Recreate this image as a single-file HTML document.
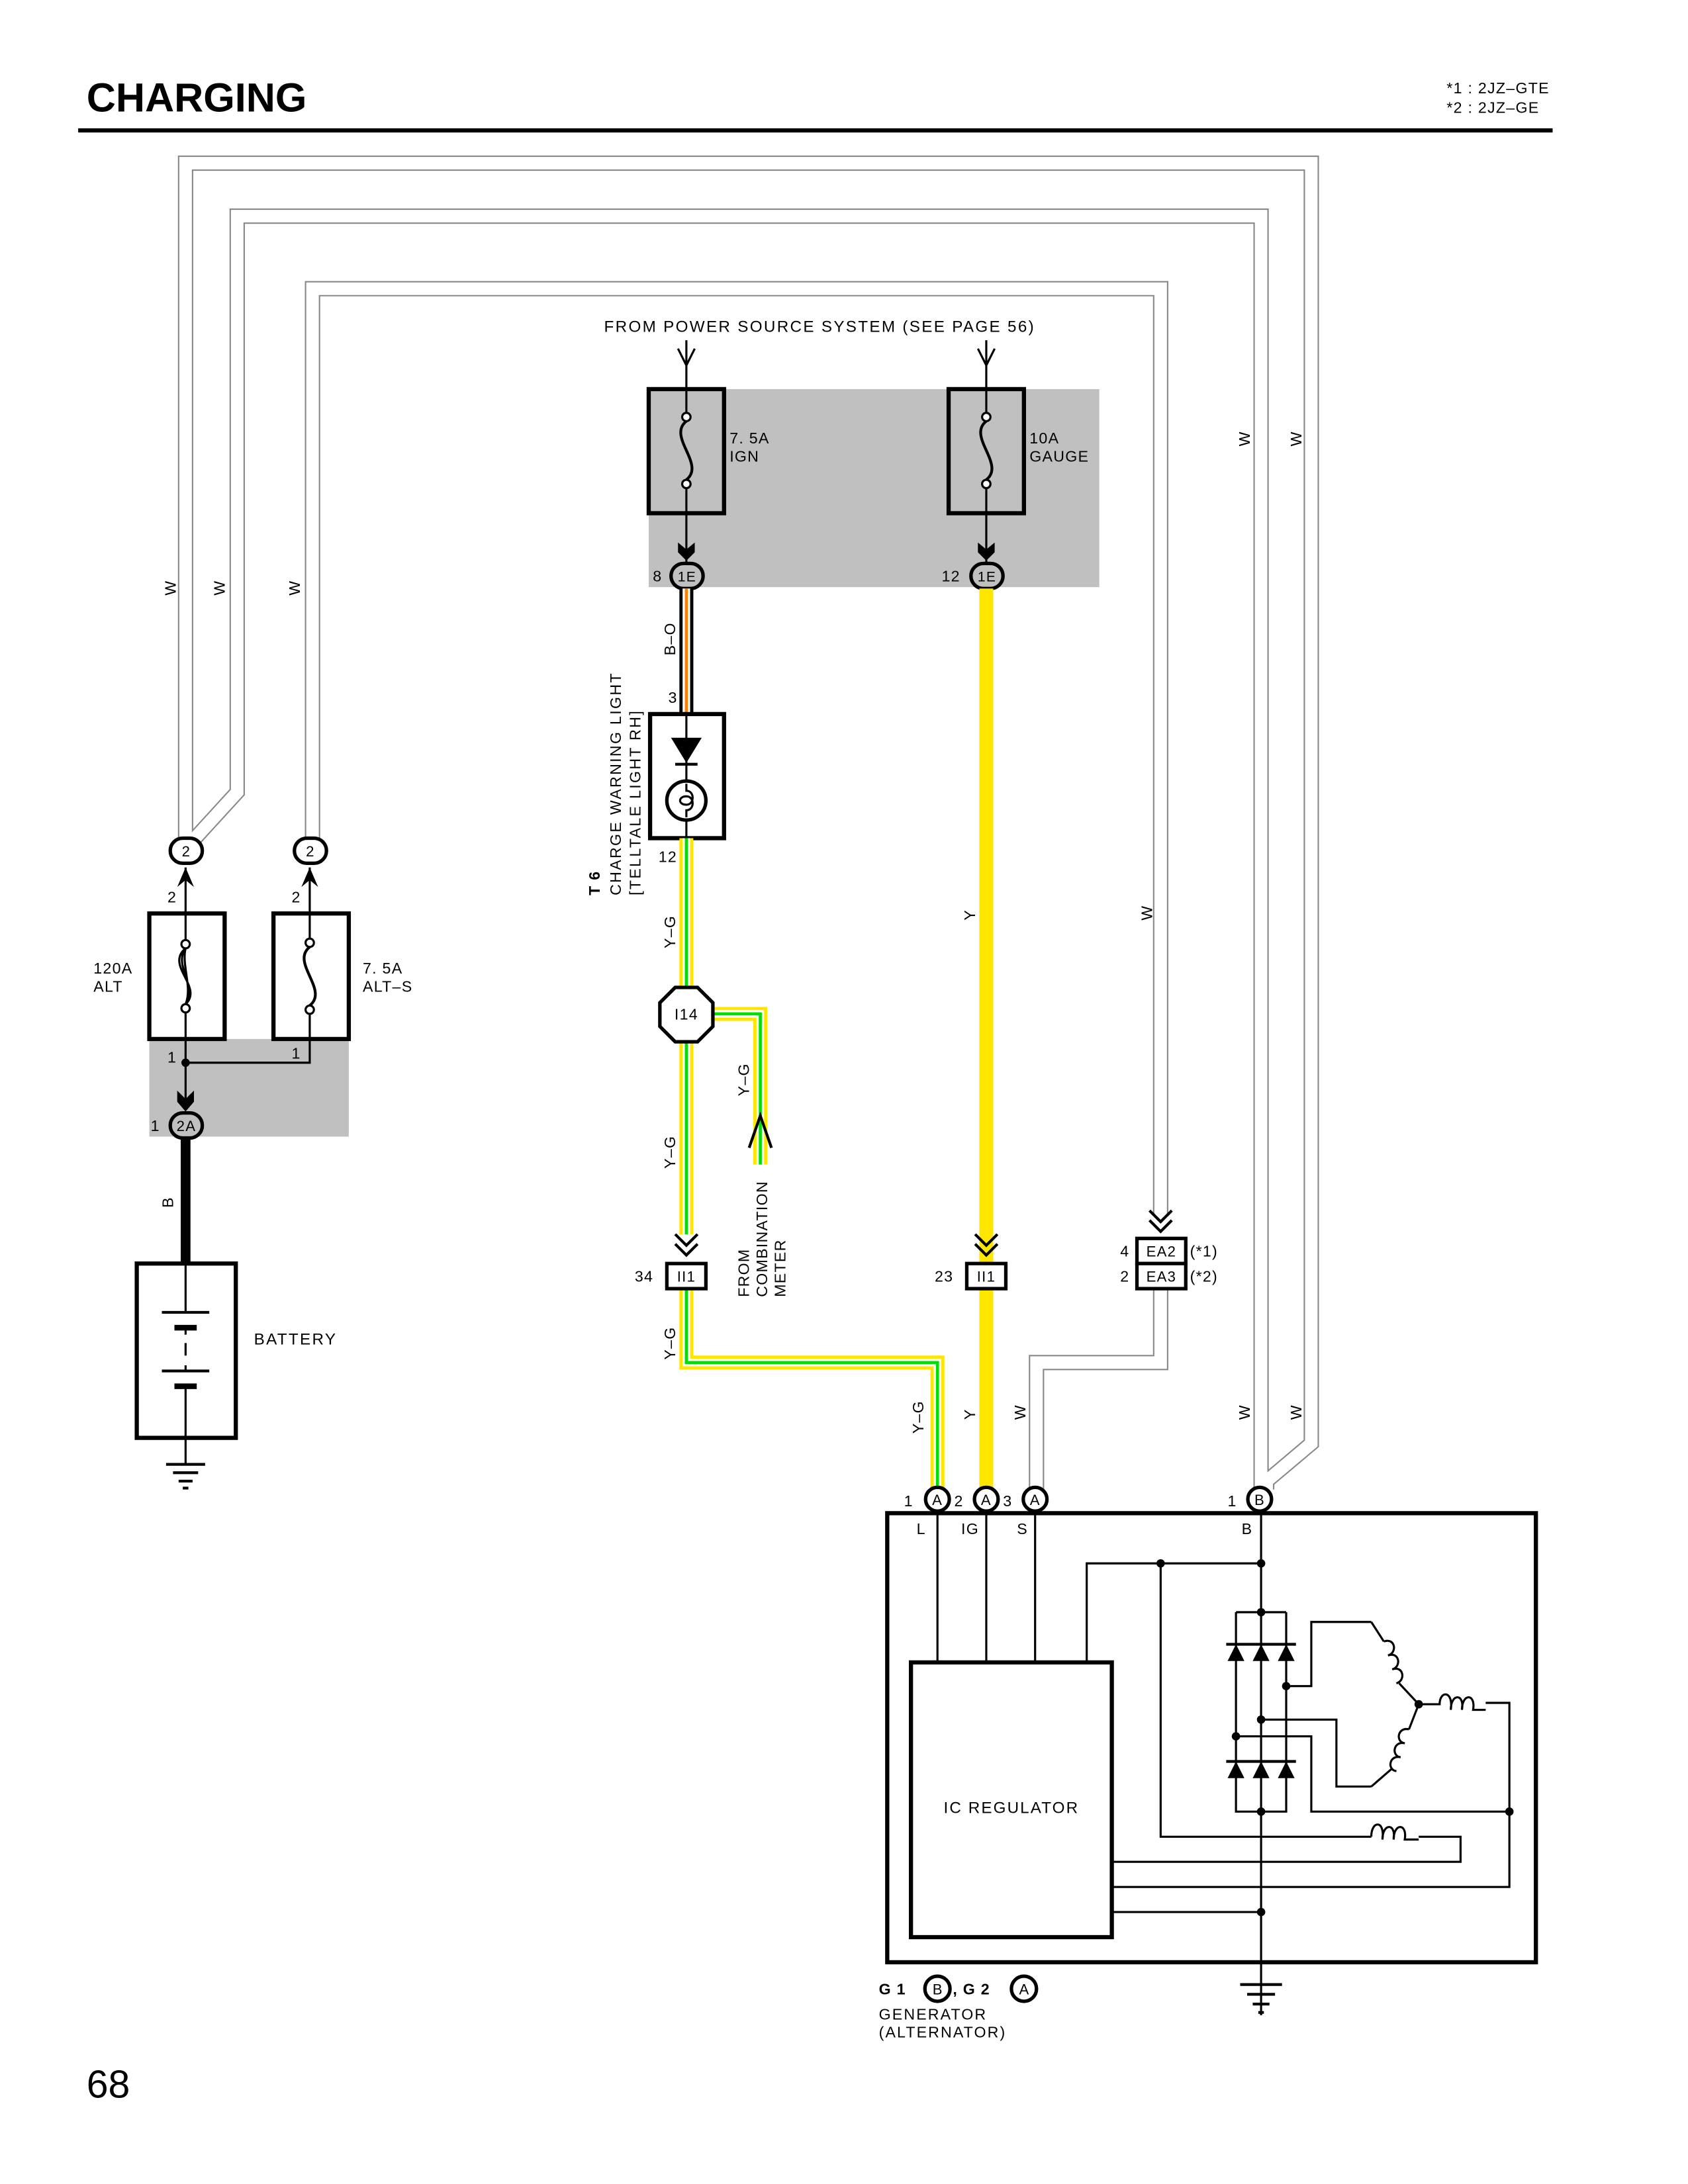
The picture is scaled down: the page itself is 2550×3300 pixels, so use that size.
<!DOCTYPE html>
<html><head><meta charset="utf-8"><style>
html,body{margin:0;padding:0;background:#fff}
svg{display:block}
text{font-family:"Liberation Sans",sans-serif;fill:#000;letter-spacing:0.6px}
</style></head><body>
<svg width="2550" height="3300" viewBox="0 0 1210 1566" xmlns="http://www.w3.org/2000/svg">
<defs>
<g id="fz"><path d="M0,-21 C-14,-10 14,10 0,21" fill="none" stroke="#000" stroke-width="2"/><circle cx="0" cy="-24" r="3" fill="#fff" stroke="#000" stroke-width="1.5"/><circle cx="0" cy="24" r="3" fill="#fff" stroke="#000" stroke-width="1.5"/></g>
</defs>
<rect width="1210" height="1566" fill="#fff"/>
<!-- header -->
<text x="62" y="80" font-size="29" font-weight="bold" style="letter-spacing:0">CHARGING</text>
<text x="1037" y="67" font-size="11">*1  : 2JZ–GTE</text>
<text x="1037" y="81" font-size="11">*2  : 2JZ–GE</text>
<rect x="56" y="92" width="1057" height="3" fill="#000"/>

<!-- shaded areas -->
<rect x="465" y="279" width="323" height="142" fill="#c0c0c0"/>
<rect x="107" y="745" width="143" height="70" fill="#c0c0c0"/>

<!-- W wires -->
<g fill="none" stroke-linejoin="miter">
<g stroke="#888" stroke-width="11">
<path d="M133,603 V117 H940 V1035 L908,1062 V1068"/>
<path d="M138,603 L170,568 V155 H904 V1068"/>
<path d="M224,603 V207 H832 V870"/>
<path d="M832,924 V977 H743 V1068"/>
</g>
<g stroke="#fff" stroke-width="9">
<path d="M133,603 V117 H940 V1035 L908,1062 V1068"/>
<path d="M138,603 L170,568 V155 H904 V1068"/>
<path d="M224,603 V207 H832 V870"/>
<path d="M832,924 V977 H743 V1068"/>
</g>
</g>
<g font-size="11">
<text transform="translate(126,427) rotate(-90)">W</text>
<text transform="translate(161,427) rotate(-90)">W</text>
<text transform="translate(215,427) rotate(-90)">W</text>
<text transform="translate(896,320) rotate(-90)">W</text>
<text transform="translate(933,320) rotate(-90)">W</text>
<text transform="translate(826,660) rotate(-90)">W</text>
<text transform="translate(735,1018) rotate(-90)">W</text>
<text transform="translate(896,1018) rotate(-90)">W</text>
<text transform="translate(933,1018) rotate(-90)">W</text>
</g>

<!-- power source -->
<text x="433" y="238" font-size="11.5" style="letter-spacing:1.1px">FROM POWER SOURCE SYSTEM (SEE PAGE 56)</text>
<g stroke="#000" stroke-width="1.5" fill="none">
<path d="M492,244 V279 M486,250 L492,262 L498,250"/>
<path d="M707,244 V279 M701,250 L707,262 L713,250"/>
</g>
<!-- fuses top -->
<rect x="465" y="279" width="54" height="89" fill="none" stroke="#000" stroke-width="3"/>
<rect x="680" y="279" width="54" height="89" fill="none" stroke="#000" stroke-width="3"/>
<g stroke="#000" stroke-width="1.5"><path d="M492,279 V296 M492,350 V368 M707,279 V296 M707,350 V368"/></g>
<use href="#fz" x="492" y="323"/>
<use href="#fz" x="707" y="323"/>
<text x="523" y="318" font-size="11">7. 5A</text><text x="523" y="331" font-size="11">IGN</text>
<text x="738" y="318" font-size="11">10A</text><text x="738" y="331" font-size="11">GAUGE</text>
<g stroke="#000" stroke-width="1.5"><path d="M492,368 V404 M707,368 V404"/></g>
<path d="M486,389 L492,394 L498,389 L498,396 L492,402 L486,396Z" fill="#000"/>
<path d="M701,389 L707,394 L713,389 L713,396 L707,402 L701,396Z" fill="#000"/>
<rect x="481" y="404" width="23" height="18" rx="9" fill="#c0c0c0" stroke="#000" stroke-width="2.5"/>
<rect x="696" y="404" width="23" height="18" rx="9" fill="#c0c0c0" stroke="#000" stroke-width="2.5"/>
<text x="492.5" y="417" font-size="10" text-anchor="middle">1E</text>
<text x="707.5" y="417" font-size="10" text-anchor="middle">1E</text>
<text x="468" y="417" font-size="11">8</text>
<text x="675" y="417" font-size="11">12</text>

<!-- B-O wire -->
<path d="M492,422 V512" stroke="#000" stroke-width="10"/>
<path d="M492,422 V512" stroke="#fff" stroke-width="5.4"/>
<path d="M492,422 V512" stroke="#ff8000" stroke-width="2.2"/>
<text transform="translate(484,470) rotate(-90)" font-size="11">B–O</text>
<text x="479" y="504" font-size="11">3</text>

<!-- T6 -->
<rect x="466" y="512" width="53" height="89" fill="#fff" stroke="#000" stroke-width="3"/>
<path d="M492,512 V601" stroke="#000" stroke-width="1.5"/>
<path d="M481,529 L503,529 L492,547Z" fill="#000"/>
<path d="M484,548 H500" stroke="#000" stroke-width="2"/>
<circle cx="492" cy="574" r="14" fill="#fff" stroke="#000" stroke-width="2.5"/>
<path d="M492,562 V567 C498,567 498,577 492,577 C486,577 486,571 492,571 C498,571 498,581 492,581 V586" fill="none" stroke="#000" stroke-width="1.5"/>
<text transform="translate(430,642) rotate(-90)" font-size="11" font-weight="bold">T 6</text>
<text transform="translate(445,642) rotate(-90)" font-size="11" style="letter-spacing:1.1px">CHARGE WARNING LIGHT</text>
<text transform="translate(459,642) rotate(-90)" font-size="11" style="letter-spacing:1.1px">[TELLTALE LIGHT RH]</text>
<text x="472" y="618" font-size="11">12</text>

<!-- Y-G wires -->
<g fill="none">
<path d="M492,601 V885 M492,924 V977 H672 V1068 M512,727 H545 V835" stroke="#ffe600" stroke-width="10"/>
<path d="M492,601 V885 M492,924 V977 H672 V1068 M512,727 H545 V835" stroke="#fff" stroke-width="5.4"/>
<path d="M492,601 V885 M492,924 V977 H672 V1068 M512,727 H545 V835" stroke="#00e000" stroke-width="2.2"/>
</g>
<g font-size="11">
<text transform="translate(484,680) rotate(-90)">Y–G</text>
<text transform="translate(484,838) rotate(-90)">Y–G</text>
<text transform="translate(484,975) rotate(-90)">Y–G</text>
<text transform="translate(537,786) rotate(-90)">Y–G</text>
<text transform="translate(662,1028) rotate(-90)">Y–G</text>
</g>
<!-- I14 -->
<path d="M484,708 L500,708 L511,719 L511,736 L500,747 L484,747 L473,736 L473,719Z" fill="#fff" stroke="#000" stroke-width="2.5"/>
<text x="492" y="731" font-size="11" text-anchor="middle">I14</text>
<path d="M537,823 L545,800 L553,823" fill="none" stroke="#000" stroke-width="2"/>
<g font-size="11" style="letter-spacing:1.1px">
<text transform="translate(537,930) rotate(-90)">FROM</text>
<text transform="translate(550,930) rotate(-90)">COMBINATION</text>
<text transform="translate(563,930) rotate(-90)">METER</text>
</g>

<!-- Y wire -->
<path d="M707,422 V1068" stroke="#ffe600" stroke-width="10"/>
<text transform="translate(699,660) rotate(-90)" font-size="11">Y</text>
<text transform="translate(699,1018) rotate(-90)" font-size="11">Y</text>

<!-- double arrows -->
<g fill="none" stroke="#000" stroke-width="2">
<path d="M484,885 L492,893 L500,885 M484,892 L492,900 L500,892"/>
<path d="M699,885 L707,893 L715,885 M699,892 L707,900 L715,892"/>
<path d="M824,868 L832,876 L840,868 M824,875 L832,883 L840,875"/>
</g>
<rect x="478" y="906" width="28" height="18" fill="#fff" stroke="#000" stroke-width="2.5"/>
<rect x="693" y="906" width="28" height="18" fill="#fff" stroke="#000" stroke-width="2.5"/>
<text x="492" y="919" font-size="10.5" text-anchor="middle">II1</text>
<text x="707" y="919" font-size="10.5" text-anchor="middle">II1</text>
<text x="455" y="919" font-size="11">34</text>
<text x="670" y="919" font-size="11">23</text>
<rect x="815" y="888" width="35" height="18" fill="#fff" stroke="#000" stroke-width="2.5"/>
<rect x="815" y="906" width="35" height="18" fill="#fff" stroke="#000" stroke-width="2.5"/>
<text x="832.5" y="901" font-size="10.5" text-anchor="middle">EA2</text>
<text x="832.5" y="919" font-size="10.5" text-anchor="middle">EA3</text>
<text x="803" y="901" font-size="11">4</text>
<text x="803" y="919" font-size="11">2</text>
<text x="853" y="901" font-size="11">(*1)</text>
<text x="853" y="919" font-size="11">(*2)</text>

<!-- left fuses -->
<rect x="122" y="601" width="23" height="18" rx="9" fill="#fff" stroke="#000" stroke-width="2.5"/>
<rect x="211" y="601" width="23" height="18" rx="9" fill="#fff" stroke="#000" stroke-width="2.5"/>
<text x="133.5" y="614" font-size="10.5" text-anchor="middle">2</text>
<text x="222.5" y="614" font-size="10.5" text-anchor="middle">2</text>
<path d="M127,636 L133,622 L139,636 L133,631Z" fill="#000"/>
<path d="M216,636 L222,622 L228,636 L222,631Z" fill="#000"/>
<g stroke="#000" stroke-width="1.5" fill="none"><path d="M133,622 V676 M133,724 V790 M222,622 V676 M222,724 V762 H133"/></g>
<text x="120" y="647" font-size="11">2</text>
<text x="209" y="647" font-size="11">2</text>
<rect x="107" y="655" width="54" height="90" fill="none" stroke="#000" stroke-width="3"/>
<rect x="196" y="655" width="54" height="90" fill="none" stroke="#000" stroke-width="3"/>
<path d="M133,680 C118,692 146,708 133,720 M133,680 C124,692 142,708 133,720 M133,680 C130,692 138,708 133,720" fill="none" stroke="#000" stroke-width="1.5"/>
<circle cx="133" cy="677" r="3" fill="#fff" stroke="#000" stroke-width="1.5"/>
<circle cx="133" cy="723" r="3" fill="#fff" stroke="#000" stroke-width="1.5"/>
<use href="#fz" x="222" y="700"/>
<text x="67" y="698" font-size="11">120A</text><text x="67" y="711" font-size="11">ALT</text>
<text x="260" y="698" font-size="11">7. 5A</text><text x="260" y="711" font-size="11">ALT–S</text>
<text x="120" y="762" font-size="11">1</text>
<text x="209" y="759" font-size="11">1</text>
<circle cx="133" cy="762" r="3" fill="#000"/>
<path d="M127,782 L133,788 L139,782 L139,790 L133,797 L127,790Z" fill="#000"/>
<rect x="122" y="798" width="23" height="18" rx="9" fill="#c0c0c0" stroke="#000" stroke-width="2.5"/>
<text x="133.5" y="811" font-size="10.5" text-anchor="middle">2A</text>
<text x="108" y="811" font-size="11">1</text>
<path d="M133,816 V905" stroke="#000" stroke-width="7"/>
<text transform="translate(124,866) rotate(-90)" font-size="11">B</text>
<!-- battery -->
<rect x="98" y="906" width="71" height="125" fill="#fff" stroke="#000" stroke-width="3"/>
<g stroke="#000" fill="none"><path d="M133,906 V941 M133,952 V983 M133,994 V1050" stroke-width="1.5"/>
<path d="M116,941 H150 M116,983 H150" stroke-width="2"/>
<path d="M125,952 H141 M125,994 H141" stroke-width="4"/></g>
<rect x="130" y="957" width="6" height="22" fill="#fff"/>
<path d="M133,963 V972" stroke="#000" stroke-width="1.5"/>
<text x="182" y="964" font-size="11.5" style="letter-spacing:1.1px">BATTERY</text>
<g stroke="#000" stroke-width="2"><path d="M119,1050 H147 M124,1056 H142 M128,1062 H138 M131,1067 H135"/></g>

<!-- generator -->
<g fill="#fff" stroke="#000" stroke-width="2.5">
<circle cx="672" cy="1075" r="8.5"/><circle cx="707" cy="1075" r="8.5"/><circle cx="742" cy="1075" r="8.5"/><circle cx="903" cy="1075" r="8.5"/>
</g>
<g font-size="10.5" text-anchor="middle" style="letter-spacing:0">
<text x="672" y="1079">A</text><text x="707" y="1079">A</text><text x="742" y="1079">A</text><text x="903" y="1079">B</text>
</g>
<g font-size="11"><text x="648" y="1080">1</text><text x="684" y="1080">2</text><text x="719" y="1080">3</text><text x="880" y="1080">1</text>
<text x="657" y="1100">L</text><text x="689" y="1100">IG</text><text x="729" y="1100">S</text><text x="890" y="1100">B</text></g>
<rect x="636" y="1085" width="465" height="322" fill="none" stroke="#000" stroke-width="3"/>
<rect x="653" y="1192" width="144" height="197" fill="#fff" stroke="#000" stroke-width="3"/>
<text x="725" y="1300" font-size="11.5" text-anchor="middle" style="letter-spacing:1px">IC REGULATOR</text>
<g stroke="#000" stroke-width="1.5" fill="none">
<path d="M672,1084 V1192 M707,1084 V1192 M742,1084 V1192"/>
<path d="M779,1192 V1121 H904"/>
<path d="M904,1084 V1445"/>
<path d="M886,1156 H922 M886,1156 V1299 H922 V1156"/>
<path d="M922,1209 H940 V1163 H983"/>
<path d="M904,1233 H958 V1281 H983"/>
<path d="M886,1245 H940 V1299 H1082 V1221 H1065"/>
<path d="M832,1121 V1317 H983 M1017,1317 H1047 V1335 H797"/>
<path d="M797,1353 H1082 V1299"/>
<path d="M797,1371 H904"/>
<path d="M983,1163 L992,1177 M1003,1207 L1017,1222 L1010,1240 M998,1268 L983,1281"/>
</g>
<!-- coils -->
<g fill="none" stroke="#000" stroke-width="1.5">
<path d="M992,1177 c8,-3 10,8 3,10 c8,-3 10,8 3,10 c8,-3 10,8 3,10"/>
<path d="M1010,1240 c-8,-2 -10,9 -3,10 c-8,-2 -10,9 -3,10 c-8,-2 -10,9 -3,10"/>
<path d="M1017,1222 H1032 c0,-10 10,-10 8,4 c0,-12 10,-12 8,0 c0,-12 10,-12 8,0 H1065"/>
<path d="M983,1317 c0,-12 10,-12 8,2 c0,-12 10,-12 8,0 c0,-12 10,-12 8,0 H1017"/>
</g>
<!-- diodes -->
<g fill="#000">
<path d="M880,1191 L892,1191 L886,1179Z"/><path d="M898,1191 L910,1191 L904,1179Z"/><path d="M916,1191 L928,1191 L922,1179Z"/>
<path d="M880,1275 L892,1275 L886,1263Z"/><path d="M898,1275 L910,1275 L904,1263Z"/><path d="M916,1275 L928,1275 L922,1263Z"/>
</g>
<g stroke="#000" stroke-width="2"><path d="M879,1179 H929 M879,1263 H929"/></g>
<g fill="#000">
<circle cx="832" cy="1121" r="3"/><circle cx="904" cy="1121" r="3"/><circle cx="904" cy="1156" r="3"/>
<circle cx="922" cy="1209" r="3"/><circle cx="904" cy="1233" r="3"/><circle cx="886" cy="1245" r="3"/>
<circle cx="904" cy="1299" r="3"/><circle cx="1082" cy="1299" r="3"/><circle cx="904" cy="1371" r="3"/><circle cx="1017" cy="1222" r="3"/>
</g>
<g stroke="#000" stroke-width="2"><path d="M889,1423 H919 M894,1430 H914 M898,1437 H910 M902,1443 H906"/></g>
<text x="630" y="1430" font-size="11" font-weight="bold">G 1</text>
<circle cx="672" cy="1426" r="9" fill="#fff" stroke="#000" stroke-width="2.5"/>
<text x="672" y="1430" font-size="10.5" text-anchor="middle" style="letter-spacing:0">B</text>
<text x="683" y="1430" font-size="11" font-weight="bold">, G 2</text>
<circle cx="734" cy="1426" r="9" fill="#fff" stroke="#000" stroke-width="2.5"/>
<text x="734" y="1430" font-size="10.5" text-anchor="middle" style="letter-spacing:0">A</text>
<text x="630" y="1448" font-size="11" style="letter-spacing:1px">GENERATOR</text>
<text x="630" y="1461" font-size="11" style="letter-spacing:1px">(ALTERNATOR)</text>
<text x="62" y="1504" font-size="28" style="letter-spacing:0">68</text>
</svg>
</body></html>
